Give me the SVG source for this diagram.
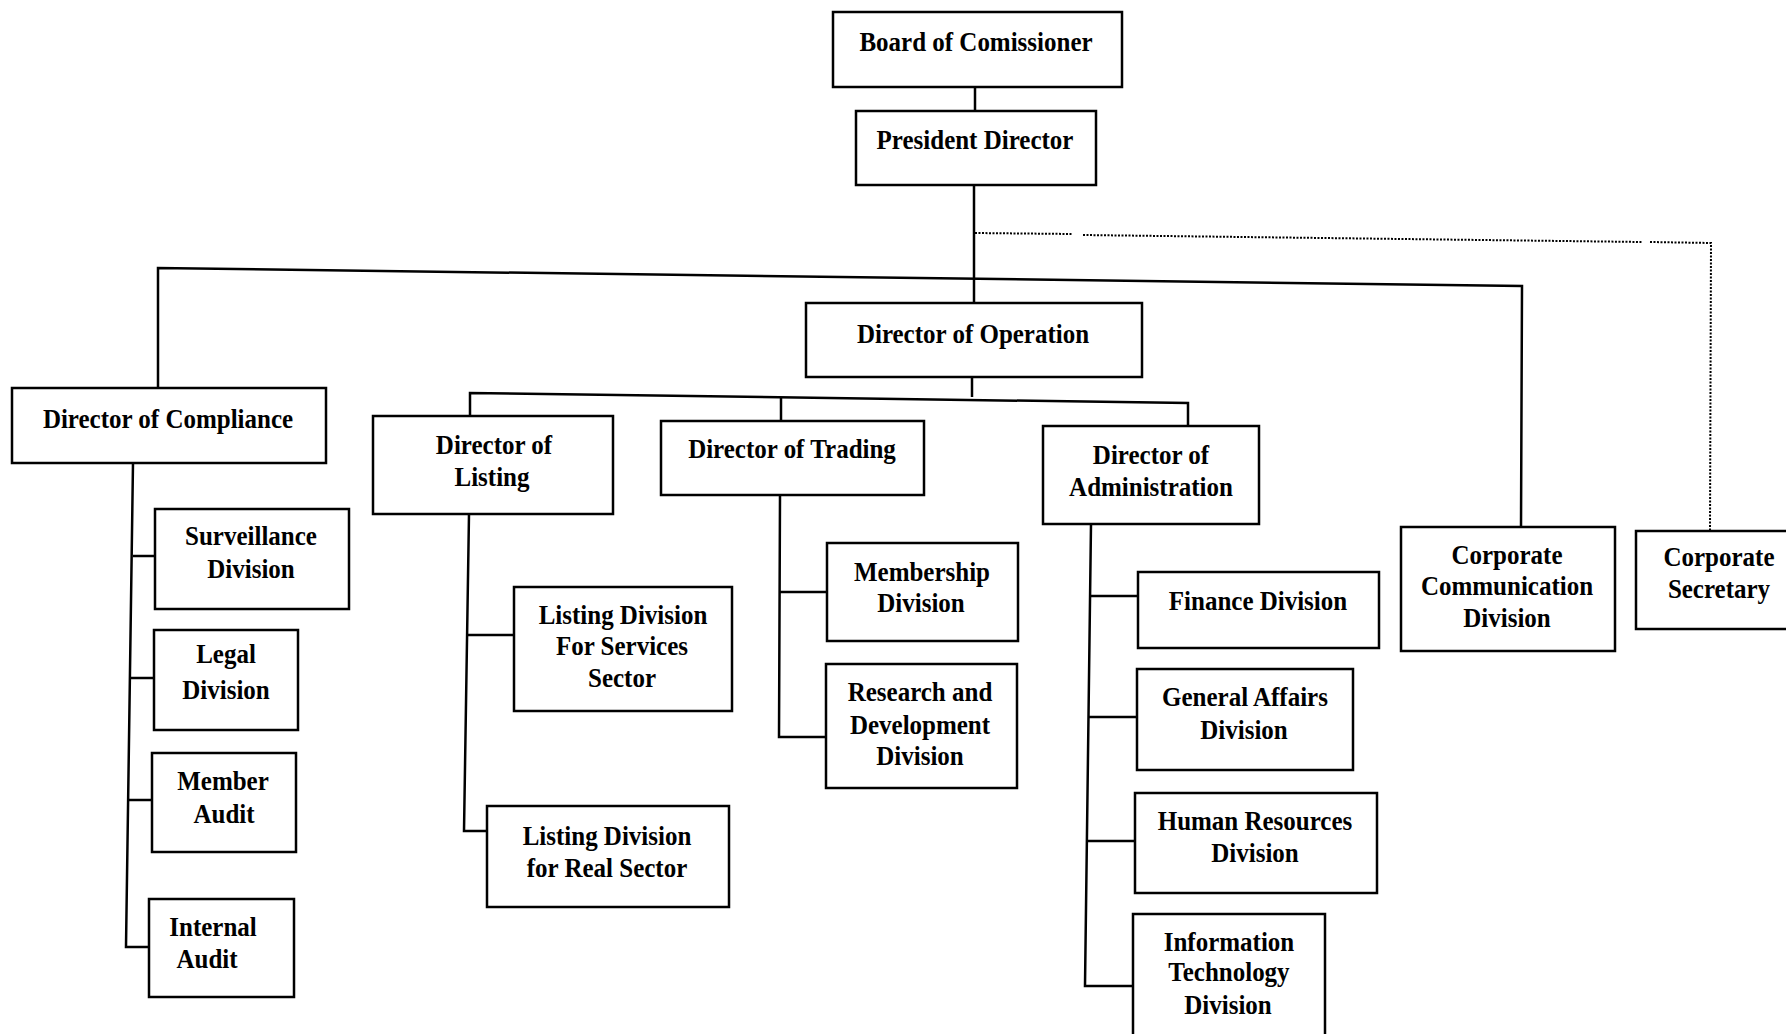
<svg xmlns="http://www.w3.org/2000/svg" width="1786" height="1034" viewBox="0 0 1786 1034">
<style>
.box{fill:#fff;stroke:#000;stroke-width:2.5}
.ln{fill:none;stroke:#000;stroke-width:2.5}
.dot{fill:none;stroke:#000;stroke-width:2;stroke-dasharray:2 1.5}
.t{font-family:"Liberation Serif","Times New Roman",serif;font-weight:bold;font-size:25px;text-anchor:middle;fill:#000;transform-box:fill-box;transform-origin:center;transform:scaleY(1.13)}
</style>
<rect width="1786" height="1034" fill="#fff"/>
<g id="connectors">
<line class="ln" x1="975" y1="87" x2="975" y2="111"/>
<line class="ln" x1="974" y1="185" x2="974" y2="303"/>
<polyline class="ln" points="158,388 158,268 1522,286 1521,527"/>
<polyline class="dot" points="975,233 1072,234"/>
<polyline class="dot" points="1083,235 1642,242"/>
<polyline class="dot" points="1650,242 1711,243 1710,531"/>
<line class="ln" x1="972" y1="377" x2="972" y2="397"/>
<polyline class="ln" points="470,416 470,393 1188,403 1188,426"/>
<line class="ln" x1="781" y1="397" x2="781" y2="421"/>
<polyline class="ln" points="133,463 126,947 149,947"/>
<line class="ln" x1="133" y1="556" x2="155" y2="556"/>
<line class="ln" x1="131" y1="678" x2="154" y2="678"/>
<line class="ln" x1="129" y1="800" x2="152" y2="800"/>
<polyline class="ln" points="469,514 464,831 487,831"/>
<line class="ln" x1="468" y1="635" x2="514" y2="635"/>
<polyline class="ln" points="780,495 779,737 826,737"/>
<line class="ln" x1="780" y1="592" x2="827" y2="592"/>
<polyline class="ln" points="1091,524 1085,986 1133,986"/>
<line class="ln" x1="1090" y1="596" x2="1138" y2="596"/>
<line class="ln" x1="1089" y1="717" x2="1137" y2="717"/>
<line class="ln" x1="1088" y1="841" x2="1135" y2="841"/>
</g>
<g id="board"><rect class="box" x="833" y="12" width="289" height="75"/><text class="t" x="976" y="50">Board of Comissioner</text></g>
<g id="president"><rect class="box" x="856" y="111" width="240" height="74"/><text class="t" x="975" y="148">President  Director</text></g>
<g id="operation"><rect class="box" x="806" y="303" width="336" height="74"/><text class="t" x="973" y="342">Director of Operation</text></g>
<g id="compliance"><rect class="box" x="12" y="388" width="314" height="75"/><text class="t" x="168" y="427">Director of Compliance</text></g>
<g id="listing"><rect class="box" x="373" y="416" width="240" height="98"/><text class="t" x="494" y="453">Director of</text><text class="t" x="492" y="485">Listing</text></g>
<g id="trading"><rect class="box" x="661" y="421" width="263" height="74"/><text class="t" x="792" y="457">Director of Trading</text></g>
<g id="administration"><rect class="box" x="1043" y="426" width="216" height="98"/><text class="t" x="1151" y="463">Director of</text><text class="t" x="1151" y="495">Administration</text></g>
<g id="corp-comm"><rect class="box" x="1401" y="527" width="214" height="124"/><text class="t" x="1507" y="563">Corporate</text><text class="t" x="1507" y="594">Communication</text><text class="t" x="1507" y="626">Division</text></g>
<g id="corp-sec"><rect class="box" x="1636" y="531" width="160" height="98"/><text class="t" x="1719" y="565">Corporate</text><text class="t" x="1719" y="597">Secretary</text></g>
<g id="surveillance"><rect class="box" x="155" y="509" width="194" height="100"/><text class="t" x="251" y="544">Surveillance</text><text class="t" x="251" y="577">Division</text></g>
<g id="legal"><rect class="box" x="154" y="630" width="144" height="100"/><text class="t" x="226" y="662">Legal</text><text class="t" x="226" y="698">Division</text></g>
<g id="member-audit"><rect class="box" x="152" y="753" width="144" height="99"/><text class="t" x="223" y="789">Member</text><text class="t" x="224" y="822">Audit</text></g>
<g id="internal-audit"><rect class="box" x="149" y="899" width="145" height="98"/><text class="t" x="213" y="935">Internal</text><text class="t" x="207" y="967">Audit</text></g>
<g id="listing-services"><rect class="box" x="514" y="587" width="218" height="124"/><text class="t" x="623" y="623">Listing Division</text><text class="t" x="622" y="654">For Services</text><text class="t" x="622" y="686">Sector</text></g>
<g id="listing-real"><rect class="box" x="487" y="806" width="242" height="101"/><text class="t" x="607" y="844">Listing Division</text><text class="t" x="607" y="876">for Real Sector</text></g>
<g id="membership"><rect class="box" x="827" y="543" width="191" height="98"/><text class="t" x="922" y="580">Membership</text><text class="t" x="921" y="611">Division</text></g>
<g id="research"><rect class="box" x="826" y="664" width="191" height="124"/><text class="t" x="920" y="700">Research and</text><text class="t" x="920" y="733">Development</text><text class="t" x="920" y="764">Division</text></g>
<g id="finance"><rect class="box" x="1138" y="572" width="241" height="76"/><text class="t" x="1258" y="609">Finance Division</text></g>
<g id="general-affairs"><rect class="box" x="1137" y="669" width="216" height="101"/><text class="t" x="1245" y="705">General Affairs</text><text class="t" x="1244" y="738">Division</text></g>
<g id="human-resources"><rect class="box" x="1135" y="793" width="242" height="100"/><text class="t" x="1255" y="829">Human Resources</text><text class="t" x="1255" y="861">Division</text></g>
<g id="information-technology"><rect class="box" x="1133" y="914" width="192" height="130"/><text class="t" x="1229" y="950">Information</text><text class="t" x="1229" y="980">Technology</text><text class="t" x="1228" y="1013">Division</text></g>
</svg>
